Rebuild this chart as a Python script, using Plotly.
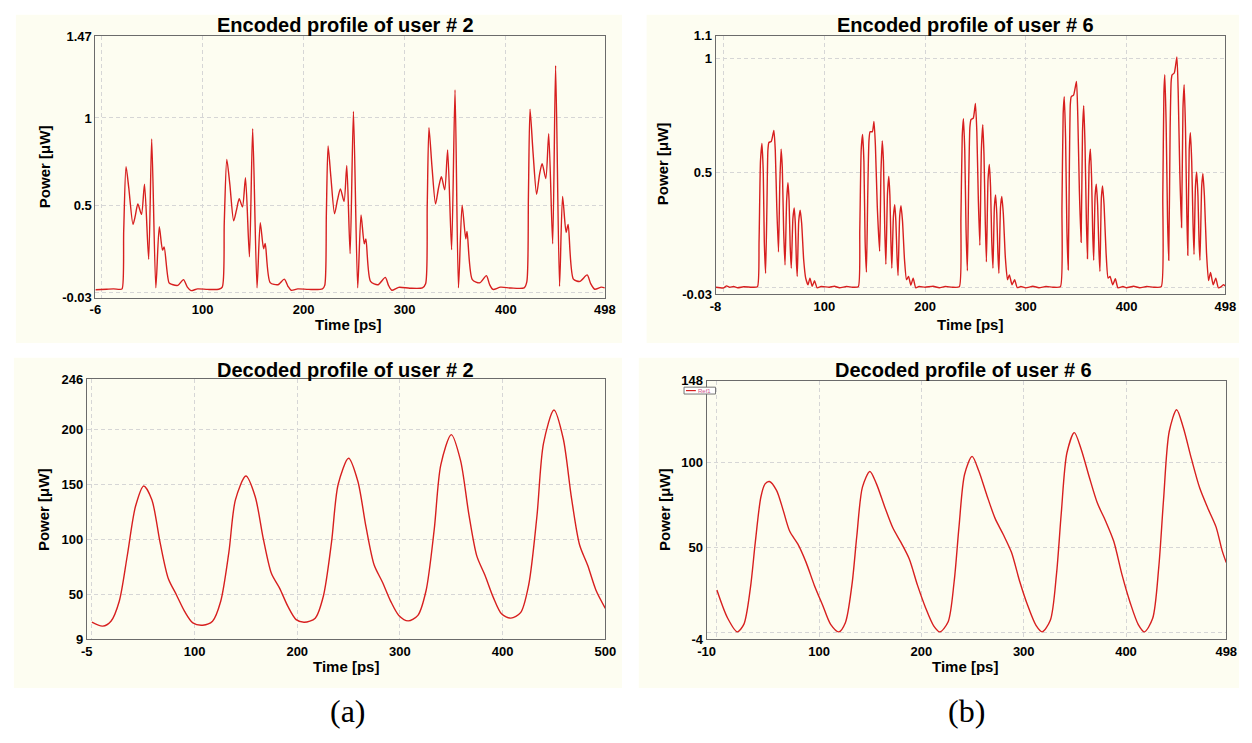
import plotly.graph_objects as go

# ---------------- data ----------------
# Encoded profile of user # 2  (time ps, power uW)
enc2_time = [-6, 5, 12, 18, 20.4, 22, 24.3, 27, 31.2, 33.5, 36, 39.6, 42.6, 46.7, 49.7, 53.8, 57.2, 60.4, 62, 66.9, 70, 75.6, 81.1, 85, 88.6, 95.1, 105, 116,
             119.5, 121.5, 124, 127, 130.8, 133.5, 136.3, 139.5, 142.5, 146.4, 149.6, 153.9, 157.1, 160.4, 162, 166.9, 174.7, 180.9, 184.5, 187.7, 194.2, 205, 218.6,
             220.9, 222.5, 224.2, 227, 230.6, 233.5, 236.4, 240, 242.7, 246, 249.3, 253.5, 256.8, 260, 261.6, 266.2, 273.6, 280.8, 284, 287.3, 294.1, 305, 317.5,
             320.7, 322.3, 324, 327, 330.5, 333.5, 336.3, 339.6, 342.5, 346.4, 349.8, 353.2, 356.8, 360.4, 361.7, 366.9, 374.3, 380.8, 384, 387.3, 394.8, 405, 418.2,
             420.8, 422.4, 424, 427, 430.5, 433.5, 436, 439.6, 442.5, 446.4, 449.3, 453.2, 456.2, 459.7, 461.7, 466.9, 473.4, 480.5, 484, 488, 494.5, 498]
enc2_power = [0.015, 0.018, 0.02, 0.017, 0.02, 0.35, 0.72, 0.6, 0.39, 0.44, 0.507, 0.447, 0.62, 0.19, 0.88, 0.026, 0.376, 0.242, 0.26, 0.054, 0.045, 0.04, 0.073, 0.03, 0.01, 0.02, 0.017, 0.018,
              0.03, 0.4, 0.762, 0.62, 0.41, 0.47, 0.537, 0.49, 0.657, 0.204, 0.938, 0.026, 0.40, 0.25, 0.28, 0.056, 0.044, 0.076, 0.035, 0.012, 0.02, 0.017, 0.02,
              0.04, 0.45, 0.84, 0.66, 0.451, 0.53, 0.593, 0.522, 0.728, 0.222, 1.037, 0.026, 0.444, 0.279, 0.307, 0.063, 0.044, 0.086, 0.04, 0.012, 0.029, 0.024, 0.026,
              0.05, 0.5, 0.944, 0.72, 0.507, 0.6, 0.663, 0.588, 0.816, 0.245, 1.16, 0.026, 0.5, 0.307, 0.35, 0.073, 0.055, 0.096, 0.045, 0.017, 0.03, 0.025, 0.026,
              0.06, 0.55, 1.05, 0.8, 0.563, 0.68, 0.738, 0.653, 0.91, 0.279, 1.30, 0.035, 0.55, 0.344, 0.39, 0.076, 0.063, 0.1, 0.05, 0.018, 0.03, 0.026]

# Encoded profile of user # 6, one list pair per pulse group
enc6_time_1 = [-8, 0, 3, 6, 10, 14, 20, 28, 33.6, 35.2, 36.6, 38.1, 39.4, 40.4, 41.7, 43, 44, 45, 47.3, 49.9, 51.3, 52.8, 54.5,
               55.8, 57.1, 58.3, 59.6, 61, 62.6, 63.9, 65, 66.1, 67.2, 68.8, 70.1, 71.2, 72.2, 73.1, 74.6, 76, 77.5, 79.5, 81.5,
               83.8, 85.7, 88, 90.3, 92.9, 96.8, 105, 110, 115, 122, 128]
enc6_power_1 = [0.0, -0.003, 0.006, 0.0, 0.003, -0.002, 0.002, 0.0, 0.002, 0.2, 0.55, 0.629, 0.5, 0.2, 0.061, 0.35, 0.6, 0.633, 0.637, 0.686, 0.6, 0.35, 0.154,
                0.45, 0.604, 0.52, 0.25, 0.097, 0.38, 0.457, 0.38, 0.18, 0.083, 0.3, 0.347, 0.28, 0.12, 0.047, 0.29, 0.337, 0.28, 0.12, 0.04,
                0.011, 0.04, 0.004, 0.028, -0.003, 0.003, 0.0, 0.004, -0.002, 0.003, 0.0]
enc6_time_2 = [133.7, 135.2, 136.6, 138, 139.3, 140.5, 141.8, 143.1, 144.3, 145.4, 147.7, 149.3, 150.7, 152.6, 154.9,
               156.2, 157.5, 158.7, 160, 161.1, 162.7, 164, 165.1, 166.1, 167, 168.6, 169.9, 171, 172.2, 173.2,
               174.8, 176.1, 177.6, 179.6, 181.6, 183.6, 185.9, 188.2, 190.8, 194, 200, 208, 214, 220, 227]
enc6_power_2 = [0.002, 0.25, 0.6, 0.668, 0.55, 0.2, 0.066, 0.4, 0.64, 0.68, 0.68, 0.725, 0.62, 0.35, 0.157,
                0.5, 0.64, 0.55, 0.25, 0.1, 0.41, 0.485, 0.4, 0.2, 0.083, 0.31, 0.361, 0.29, 0.13, 0.051,
                0.31, 0.357, 0.29, 0.12, 0.033, 0.047, 0.009, 0.04, -0.003, 0.003, 0.0, 0.004, -0.002, 0.003, 0.0]
enc6_time_3 = [234, 235.6, 236.9, 238.1, 239.4, 240.7, 242, 243.3, 244.5, 245.6, 247.9, 250, 251.4, 252.9, 254.4,
               255.9, 257.3, 258.5, 259.8, 260.9, 262.5, 263.8, 265, 266.2, 267.4, 268.8, 270, 271.2, 272.3, 273.3,
               274.9, 276.2, 277.7, 279.7, 281.8, 283.7, 286.3, 288.9, 291.5, 295.1, 300, 307, 313, 320, 327]
enc6_power_3 = [0.002, 0.3, 0.66, 0.737, 0.6, 0.25, 0.072, 0.45, 0.7, 0.733, 0.74, 0.804, 0.68, 0.38, 0.183,
                0.6, 0.711, 0.58, 0.28, 0.111, 0.47, 0.537, 0.44, 0.2, 0.083, 0.35, 0.404, 0.32, 0.15, 0.061,
                0.35, 0.397, 0.32, 0.13, 0.033, 0.054, 0.011, 0.033, -0.002, 0.003, -0.003, 0.004, -0.002, 0.003, 0.0]
enc6_time_4 = [334.3, 335.9, 337.1, 338.2, 339.5, 340.8, 342.1, 343.3, 344.2, 345.1, 347.4, 350.3, 351.6, 353.2, 354.9,
               356.3, 357.5, 358.8, 360.1, 361.2, 362.8, 364.1, 365.3, 366.4, 367.4, 368.8, 370, 371.3, 372.6, 373.6,
               375, 376.2, 377.7, 379.7, 381.7, 383.6, 386.3, 388.9, 391.5, 396.4, 400, 407, 413, 420, 427]
enc6_power_4 = [0.002, 0.35, 0.76, 0.833, 0.65, 0.25, 0.076, 0.55, 0.8, 0.833, 0.84, 0.9, 0.75, 0.42, 0.197,
                0.68, 0.794, 0.62, 0.3, 0.125, 0.53, 0.604, 0.48, 0.24, 0.118, 0.4, 0.451, 0.36, 0.16, 0.069,
                0.39, 0.443, 0.36, 0.15, 0.04, 0.047, 0.011, 0.037, -0.003, 0.003, -0.002, 0.004, -0.002, 0.003, 0.0]
enc6_time_5 = [434.4, 436, 437.1, 438, 439.3, 440.7, 441.9, 443.3, 444.3, 445.2, 447.4, 450, 451.3, 452.9, 454.6,
               456, 457.2, 458.5, 459.8, 460.8, 462.2, 463.4, 464.7, 466, 467, 468.4, 469.6, 470.9, 472, 472.9,
               474.6, 475.8, 477.3, 479.4, 481.4, 483.4, 486, 488.6, 491.2, 494.1, 496.4, 498]
enc6_power_5 = [0.002, 0.4, 0.85, 0.929, 0.72, 0.3, 0.118, 0.7, 0.9, 0.929, 0.937, 1.007, 0.85, 0.5, 0.261,
                0.78, 0.886, 0.7, 0.33, 0.14, 0.6, 0.676, 0.55, 0.28, 0.143, 0.44, 0.504, 0.4, 0.2, 0.118,
                0.44, 0.497, 0.4, 0.15, 0.029, 0.065, 0.011, 0.04, -0.003, 0.003, 0.011, 0.005]
enc6_time = enc6_time_1 + enc6_time_2 + enc6_time_3 + enc6_time_4 + enc6_time_5
enc6_power = enc6_power_1 + enc6_power_2 + enc6_power_3 + enc6_power_4 + enc6_power_5

# Decoded profile of user # 2
dec2_time = [0, 10.5, 18.6, 26.6, 34.5, 42.5, 50.5, 58.4, 66.4, 74.4, 82.4, 90.3, 98.3,
             107.9, 117.5, 125.4, 133.4, 139.8, 150, 159, 167, 174.9, 182.9, 190.9, 198.9,
             206.9, 217.5, 225.4, 233.4, 239.8, 250, 259, 267, 274.9, 282.9, 290.9, 298.9,
             308, 317.5, 325.4, 333.4, 339.8, 350, 359, 367, 374.9, 382.9, 390.9, 398.9,
             408, 417.5, 425.4, 433.4, 439.8, 450, 459, 467, 474.9, 482.9, 490.9, 500]
dec2_power = [24.3, 20.7, 25.2, 43.2, 85.2, 130.1, 148.7, 136.1, 97.1, 64.2, 49.2, 34.2, 23.7,
              21.6, 25.2, 43.2, 88, 136, 157.7, 139.1, 100.2, 68.7, 55.2, 38.7, 26.7,
              24.3, 28, 48, 97.5, 150, 174, 153, 111, 76.5, 61, 43.6, 30.5,
              25.5, 30.6, 53, 109, 168, 195.5, 172, 123.5, 84.6, 67, 47, 32,
              28, 33, 58.5, 121, 187.6, 218, 192, 138, 95, 76, 53.5, 37]

# Decoded profile of user # 6
dec6_time = [0, 10.3, 19.9, 26.3, 32.7, 37.5, 43, 47.1, 51.3, 58.3, 64.7, 71.2, 79.2, 87.2, 95.2, 103.2, 111.2,
             119.2, 125.6, 132, 136.8, 142.3, 149.6, 156, 164, 172.1, 180.1, 188.1, 196.1, 204.1, 212.1,
             218, 226, 232, 236.7, 242.2, 249.5, 256, 264, 272, 280, 288, 296, 304, 312,
             318, 326, 332, 336.7, 342.2, 349.5, 356, 364, 372, 380, 388, 396, 404, 412,
             418, 426, 432, 436.7, 442.2, 449.5, 456, 464, 472, 480, 488, 494, 498]
dec6_power = [24.8, 8.5, 0.2, 4.6, 25.8, 52.7, 79.6, 87.3, 88.7, 83.5, 72, 59.4, 51.8, 41.1, 27.7, 16.2, 4.6,
              0.2, 5.6, 27.7, 56.6, 85.4, 94.6, 87.3, 73.9, 61.3, 52.7, 43.1, 27.7, 14.3, 3.6,
              0.2, 6, 30, 62, 93, 103.5, 95, 80.5, 67, 57.5, 47, 30, 15.5, 4,
              0.2, 7, 34, 70, 105.5, 117.5, 108, 91.5, 76, 65.5, 53.5, 34, 17.5, 4.5,
              0.2, 8, 38, 78, 118, 131, 120.5, 102, 85, 73, 62, 48, 41]

# tick definitions
enc2_xticks = [-6, 0, 100, 200, 300, 400, 498]
enc2_xtext = ["-6", "", "100", "200", "300", "400", "498"]
enc2_yticks = [-0.03, 0, 0.5, 1, 1.47]
enc2_ytext = ["-0.03", "", "0.5", "1", "1.47"]

enc6_xticks = [-8, 0, 100, 200, 300, 400, 498]
enc6_xtext = ["-8", "", "100", "200", "300", "400", "498"]
enc6_yticks = [-0.03, 0, 0.5, 1, 1.1]
enc6_ytext = ["-0.03", "", "0.5", "1", "1.1"]

dec2_xticks = [-5, 0, 100, 200, 300, 400, 500]
dec2_xtext = ["-5", "", "100", "200", "300", "400", "500"]
dec2_yticks = [9, 50, 100, 150, 200, 246]
dec2_ytext = ["9", "50", "100", "150", "200", "246"]

dec6_xticks = [-10, 0, 100, 200, 300, 400, 498]
dec6_xtext = ["-10", "", "100", "200", "300", "400", "498"]
dec6_yticks = [-4, 0, 50, 100, 148]
dec6_ytext = ["-4", "", "50", "100", "148"]

# ---------------- figure ----------------
W, H = 1252, 743
FONT = "Liberation Sans, Arial, sans-serif"
RED = "#D71F1F"
CREAM = "#FDFDF1"

def px(x):
    return x / W

def py(y):
    return 1 - y / H

fig = go.Figure()

panels = [
    ("x", "y", enc2_time, enc2_power, enc2_xticks, enc2_xtext, enc2_yticks, enc2_ytext, [-6, 498], [-0.03, 1.47], (87.8, 605.5), (29.6, 296.6), 0.7),
    ("x2", "y2", enc6_time, enc6_power, enc6_xticks, enc6_xtext, enc6_yticks, enc6_ytext, [-8, 498], [-0.03, 1.1], (718, 1236), (29.3, 293), 0.5),
    ("x3", "y3", dec2_time, dec2_power, dec2_xticks, dec2_xtext, dec2_yticks, dec2_ytext, [-5, 500], [9, 246], (79, 606), (380, 645), 0.8),
    ("x4", "y4", dec6_time, dec6_power, dec6_xticks, dec6_xtext, dec6_yticks, dec6_ytext, [-10, 498], [-4, 148], (709, 1237), (381.5, 645), 0.8),
]

layout = dict(
    width=W, height=H,
    margin=dict(l=0, r=0, t=0, b=0),
    paper_bgcolor="white",
    plot_bgcolor=CREAM,
    showlegend=False,
    font=dict(family=FONT, color="black"),
)

for xa, ya, t, p, xt, xtt, yt, ytt, xr, yr, xd, yd, smooth in panels:
    line = dict(color=RED, width=1.4, shape="spline", smoothing=smooth)
    fig.add_trace(go.Scatter(x=t, y=p, mode="lines", line=line, xaxis=xa, yaxis=ya,
                             hoverinfo="skip", cliponaxis=True))
    xkey = "xaxis" if xa == "x" else "xaxis" + xa[1:]
    ykey = "yaxis" if ya == "y" else "yaxis" + ya[1:]
    axis_common = dict(
        showline=True, mirror=True, linecolor="#6b6b6b", linewidth=1,
        showgrid=True, gridcolor="#d6d6d6", griddash="4px,3px", gridwidth=1,
        zeroline=False, ticks="", tickmode="array",
        tickfont=dict(family=FONT, size=13, color="black", weight="bold"),
    )
    layout[xkey] = dict(axis_common, domain=[px(xd[0]), px(xd[1])], range=xr,
                        tickvals=xt, ticktext=xtt, anchor=ya)
    layout[ykey] = dict(axis_common, domain=[py(yd[1]), py(yd[0])], range=yr,
                        tickvals=yt, ticktext=ytt, anchor=xa)

fig.update_layout(**layout)

# cream panel backgrounds
panel_boxes = [(7, 8, 623, 343), (648, 8, 1250, 343), (5, 358, 623, 695), (640, 358, 1250, 695)]
shapes = []
for (x0, y0, x1, y1) in panel_boxes:
    shapes.append(dict(type="rect", xref="paper", yref="paper", x0=px(x0), x1=px(x1), y0=py(y1), y1=py(y0),
                       fillcolor=CREAM, line=dict(width=0), layer="below"))
# small legend box in decoded user 6 panel
shapes.append(dict(type="rect", xref="paper", yref="paper", x0=px(686), x1=px(718), y0=py(395), y1=py(388),
                   fillcolor="white", line=dict(color="#777777", width=1), layer="above"))
shapes.append(dict(type="line", xref="paper", yref="paper", x0=px(688), x1=px(698), y0=py(391.5), y1=py(391.5),
                   line=dict(color=RED, width=1.2), layer="above"))
fig.update_layout(shapes=shapes)

ann = []
def text(x, y, s, size, angle=0, family=FONT, bold=True):
    ann.append(dict(x=px(x), y=py(y), xref="paper", yref="paper", text=("<b>%s</b>" % s) if bold else s,
                    showarrow=False, xanchor="center", yanchor="middle", textangle=angle,
                    font=dict(family=family, size=size, color="black")))

text(342, 18, "Encoded profile of user # 2", 20)
text(972, 18, "Encoded profile of user # 6", 20)
text(342, 370, "Decoded profile of user # 2", 20)
text(970, 370, "Decoded profile of user # 6", 20)

text(345, 324, "Time [ps]", 15)
text(977, 324, "Time [ps]", 15)
text(342, 673, "Time [ps]", 15)
text(972, 673, "Time [ps]", 15)

text(36, 163, "Power [μW]", 15, angle=-90)
text(664, 160, "Power [μW]", 15, angle=-90)
text(35, 513, "Power [μW]", 15, angle=-90)
text(666, 513, "Power [μW]", 15, angle=-90)

text(345, 719, "(a)", 32, family="Liberation Serif, Times New Roman, serif", bold=False)
text(973, 719, "(b)", 32, family="Liberation Serif, Times New Roman, serif", bold=False)

ann.append(dict(x=px(707), y=py(391.5), xref="paper", yref="paper", text="Ref1", showarrow=False,
                xanchor="center", yanchor="middle", font=dict(family=FONT, size=6, color="#d0508a")))

fig.update_layout(annotations=ann)

fig.write_html("out.html")
